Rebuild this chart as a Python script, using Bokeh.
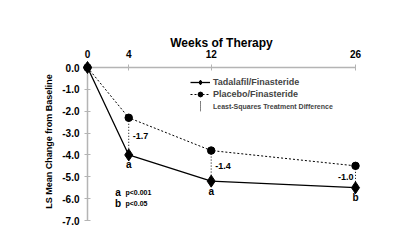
import math
from bokeh.plotting import figure
from bokeh.models import (FixedTicker, Label, Legend, LegendItem, Range1d)
from bokeh.core.properties import value
from bokeh.embed import file_html
from bokeh.resources import INLINE

# ---- data ----
weeks = [0, 4, 12, 26]
tadalafil = [0.0, -4.0, -5.2, -5.5]
placebo = [0.0, -2.3, -3.8, -4.5]
diff_weeks = [4, 12, 26]
diff_labels = ["-1.7", "-1.4", "-1.0"]
sig_letters = ["a", "a", "b"]
y_ticks = [0, -1, -2, -3, -4, -5, -6, -7]
y_tick_labels = ["0.0", "-1.0", "-2.0", "-3.0", "-4.0", "-5.0", "-6.0", "-7.0"]
x_ticks = [0, 4, 12, 26]
note_letters = ["a", "b"]
note_texts = ["p<0.001", "p<0.05"]
series_names = ["Tadalafil/Finasteride", "Placebo/Finasteride", "Least-Squares Treatment Difference"]
x_title = "Weeks of Therapy"
y_title = "LS Mean Change from Baseline"

FONT = "Liberation Sans"
GRAY = "#b4b4b4"

# frame: left 40, right 365, top 28, bottom 228 ; week0 at x=87, week26 at x=355, y0 at 67, y-7 at 220
sx = (355 - 87) / 26.0
sy = (220 - 67) / 7.0
x_rng = Range1d(-(87 - 40) / sx, 26 + (365 - 355) / sx)
y_rng = Range1d(-7 - (228 - 220) / sy, (67 - 28) / sy)

p = figure(width=400, height=242, output_backend="svg", toolbar_location=None,
           x_axis_location="above", x_range=x_rng, y_range=y_rng,
           min_border_left=40, min_border_right=35, min_border_top=28, min_border_bottom=14)
p.outline_line_color = None
p.grid.visible = False
p.background_fill_color = "white"
p.border_fill_color = "white"

# axes
for ax in (p.xaxis[0], p.yaxis[0]):
    ax.fixed_location = 0
    ax.level = "underlay"
    ax.axis_line_color = GRAY
    ax.axis_line_width = 1.5
    ax.major_tick_line_color = GRAY
    ax.major_tick_in = 3
    ax.major_tick_out = 3
    ax.minor_tick_line_color = None
    ax.major_label_text_font = FONT
    ax.major_label_text_font_style = "bold"
    ax.major_label_text_font_size = "10px"
    ax.major_label_text_color = "black"

p.xaxis.bounds = (0, 26)
p.yaxis.bounds = (-7, 0)
p.xaxis.ticker = FixedTicker(ticks=x_ticks)
p.yaxis.ticker = FixedTicker(ticks=y_ticks)
p.yaxis.major_label_overrides = {t: l for t, l in zip(y_ticks, y_tick_labels)}
p.xaxis.major_label_standoff = 7
p.yaxis.major_label_standoff = 5

# titles
p.add_layout(Label(x=13, y=(67 - 42) / sy, text=x_title, text_align="center",
                   text_baseline="middle", text_font=FONT, text_font_style="bold",
                   text_font_size="12px", text_color="black"))
p.add_layout(Label(x=-(87 - 48) / sx, y=-(141 - 67) / sy, text=y_title, angle=math.pi / 2,
                   text_align="center", text_baseline="middle", text_font=FONT,
                   text_font_style="bold", text_font_size="9px", text_color="black"))

# difference segments
y_top = [placebo[weeks.index(w)] for w in diff_weeks]
y_bot = [tadalafil[weeks.index(w)] for w in diff_weeks]
seg = p.segment(x0=diff_weeks, y0=y_top, x1=diff_weeks, y1=y_bot, line_color="black",
                line_width=1, line_dash="1 2")

# legend glyph for the difference (thin dotted box), degenerate and hidden beneath the origin marker
dmark = p.vbar(x=weeks[:1], top=tadalafil[:1], bottom=placebo[:1], width=0.001,
               fill_color=None, line_color="black", line_width=1, line_dash="1 1")

# series
l1 = p.line(weeks, tadalafil, line_color="black", line_width=1.3)
m1 = p.scatter(weeks, tadalafil, marker="diamond", size=12, color="black")
l2 = p.line(weeks, placebo, line_color="black", line_width=1, line_dash="2 2")
m2 = p.scatter(weeks, placebo, marker="circle", size=7.5, color="black")

# difference labels
mid = [(a + b) / 2 for a, b in zip(y_top, y_bot)]
p.text(x=diff_weeks[:2], y=mid[:2], text=diff_labels[:2], x_offset=4, text_align="left",
       text_baseline="middle", text_font=value(FONT), text_font_style="bold",
       text_font_size="9px", text_color="black")
p.text(x=diff_weeks[2:], y=mid[2:], text=diff_labels[2:], x_offset=-2, text_align="right",
       text_baseline="middle", text_font=value(FONT), text_font_style="bold",
       text_font_size="9px", text_color="black")

# significance letters
p.text(x=diff_weeks, y=y_bot, text=sig_letters, y_offset=10, text_align="center",
       text_baseline="middle", text_font=value(FONT), text_font_style="bold",
       text_font_size="10px", text_color="black")

# p-value notes
note_y = [-(191.7 - 67) / sy, -(203.3 - 67) / sy]
for letter, txt, yy in zip(note_letters, note_texts, note_y):
    p.add_layout(Label(x=(117.5 - 87) / sx, y=yy, text=letter, text_align="center",
                       text_baseline="middle", text_font=FONT, text_font_style="bold",
                       text_font_size="10px", text_color="black"))
    p.add_layout(Label(x=(125 - 87) / sx, y=yy, text=txt, text_align="left",
                       text_baseline="middle", text_font=FONT, text_font_style="bold",
                       text_font_size="7px", text_color="black"))

common = dict(padding=0, margin=0, spacing=0, label_height=12, glyph_height=12,
              label_text_font=FONT, label_text_font_style="bold",
              border_line_color=None, background_fill_alpha=0)
legend1 = Legend(items=[LegendItem(label=series_names[0], renderers=[l1, m1]),
                        LegendItem(label=series_names[1], renderers=[l2, m2])],
                 location=(150, 128), glyph_width=20, label_standoff=3,
                 label_text_font_size="9px", **common)
legend2 = Legend(items=[LegendItem(label=series_names[2], renderers=[dmark])],
                 location=(160, 116), glyph_width=1, label_standoff=12,
                 label_text_font_size="7px", **common)
p.add_layout(legend1)
p.add_layout(legend2)

open("out.html", "w").write(file_html(p, INLINE))
